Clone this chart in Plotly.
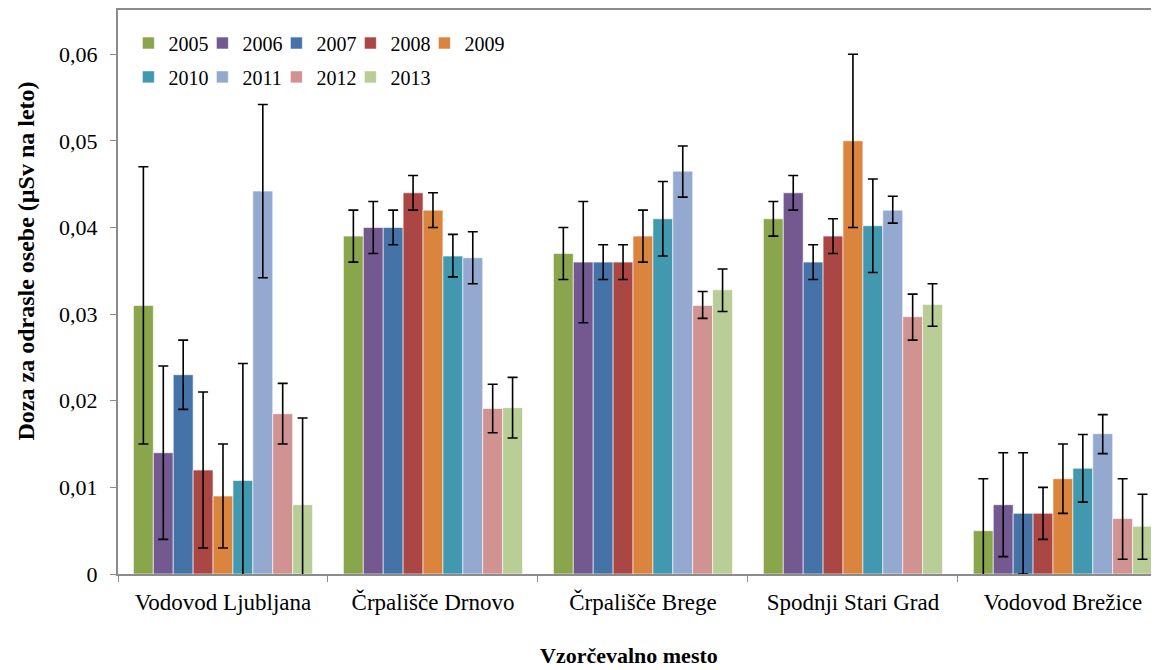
import plotly.graph_objects as go

sites = ["Vodovod Ljubljana", "Črpališče Drnovo", "Črpališče Brege",
         "Spodnji Stari Grad", "Vodovod Brežice"]
years = ["2005", "2006", "2007", "2008", "2009", "2010", "2011", "2012", "2013"]
colors = ["#8AA64D", "#735990", "#4572A7", "#AA4644", "#DB843D",
          "#4198AF", "#93A9CF", "#D19392", "#B9CD96"]

# dose per site, one list per year (µSv/leto)
y2005 = [0.031, 0.039, 0.037, 0.041, 0.005]
y2006 = [0.014, 0.040, 0.036, 0.044, 0.008]
y2007 = [0.023, 0.040, 0.036, 0.036, 0.007]
y2008 = [0.012, 0.044, 0.036, 0.039, 0.007]
y2009 = [0.009, 0.042, 0.039, 0.050, 0.011]
y2010 = [0.0108, 0.0367, 0.041, 0.0402, 0.0122]
y2011 = [0.0442, 0.0365, 0.0465, 0.042, 0.0162]
y2012 = [0.0185, 0.0191, 0.031, 0.0297, 0.0064]
y2013 = [0.008, 0.0192, 0.0328, 0.0311, 0.0055]

# error bar upper ends
hi2005 = [0.047, 0.042, 0.040, 0.043, 0.011]
hi2006 = [0.024, 0.043, 0.043, 0.046, 0.014]
hi2007 = [0.027, 0.042, 0.038, 0.038, 0.014]
hi2008 = [0.021, 0.046, 0.038, 0.041, 0.010]
hi2009 = [0.015, 0.044, 0.042, 0.060, 0.015]
hi2010 = [0.0243, 0.0392, 0.0453, 0.0456, 0.0161]
hi2011 = [0.0542, 0.0395, 0.0494, 0.0436, 0.0184]
hi2012 = [0.022, 0.0219, 0.0326, 0.0323, 0.011]
hi2013 = [0.018, 0.0227, 0.0352, 0.0335, 0.0092]

# error bar lower ends
lo2005 = [0.015, 0.036, 0.034, 0.039, -0.001]
lo2006 = [0.004, 0.037, 0.029, 0.042, 0.002]
lo2007 = [0.019, 0.038, 0.034, 0.034, 0.000]
lo2008 = [0.003, 0.042, 0.034, 0.037, 0.004]
lo2009 = [0.003, 0.040, 0.036, 0.040, 0.007]
lo2010 = [-0.0027, 0.0343, 0.0367, 0.0348, 0.0083]
lo2011 = [0.0342, 0.0335, 0.0435, 0.0405, 0.0139]
lo2012 = [0.015, 0.0163, 0.0295, 0.027, 0.0017]
lo2013 = [-0.002, 0.0157, 0.0303, 0.0286, 0.0017]

vals = [y2005, y2006, y2007, y2008, y2009, y2010, y2011, y2012, y2013]
his = [hi2005, hi2006, hi2007, hi2008, hi2009, hi2010, hi2011, hi2012, hi2013]
los = [lo2005, lo2006, lo2007, lo2008, lo2009, lo2010, lo2011, lo2012, lo2013]

ytickvals = [0, 0.01, 0.02, 0.03, 0.04, 0.05, 0.06]
yticktext = ["0", "0,01", "0,02", "0,03", "0,04", "0,05", "0,06"]

FONT = "Liberation Serif, Times New Roman, serif"

fig = go.Figure()
for i, yr in enumerate(years):
    v = vals[i]
    fig.add_trace(go.Bar(
        x=sites, y=v, name=yr,
        marker=dict(color=colors[i], line=dict(color="rgba(255,255,255,0.6)", width=1)),
        error_y=dict(type="data", symmetric=False,
                     array=[h - a for h, a in zip(his[i], v)],
                     arrayminus=[a - l for a, l in zip(v, los[i])],
                     color="black", thickness=1.6, width=5),
        legend="legend" if i < 5 else "legend2",
    ))

# empty spacer entries so the last legend label in each row is not clipped
for lg in ["legend", "legend2"]:
    fig.add_trace(go.Scatter(x=[None], y=[None], name=" ", mode="lines",
                             line=dict(color="rgba(0,0,0,0)", width=0),
                             legend=lg, hoverinfo="skip"))

leg = dict(orientation="h", xref="paper", yref="paper", xanchor="left", yanchor="top",
           bgcolor="rgba(0,0,0,0)", font=dict(family=FONT, size=20, color="black"),
           entrywidth=29, itemwidth=30, traceorder="normal")

# page body has an 8px margin, so the figure is a bit smaller than the window
fig.update_layout(
    width=1151, height=662,
    margin=dict(l=110, r=0, t=2, b=96),
    paper_bgcolor="white", plot_bgcolor="white",
    barmode="group", bargap=0.147, bargroupgap=0,
    font=dict(family=FONT, size=20, color="black"),
    legend=dict(leg, x=0.01, y=0.976),
    legend2=dict(leg, x=0.01, y=0.916),
    showlegend=True,
    annotations=[
        dict(text="<b>Doza za odrasle osebe (µSv na leto)</b>", textangle=-90,
             xref="paper", yref="paper", x=-0.089, y=0.555, xanchor="center", yanchor="middle",
             showarrow=False, font=dict(family=FONT, size=24, color="black")),
        dict(text="<b>Vzorčevalno mesto</b>",
             xref="paper", yref="paper", x=0.492, y=-0.145, xanchor="center", yanchor="middle",
             showarrow=False, font=dict(family=FONT, size=22, color="black")),
    ],
)
fig.update_xaxes(range=[-0.5, 4.448], showline=True, linecolor="#8C8C8C", linewidth=2,
                 mirror=True, ticks="outside", tickson="boundaries", ticklen=6,
                 tickcolor="#8C8C8C", tickwidth=1, showgrid=False, ticklabelstandoff=6,
                 tickfont=dict(family=FONT, size=23, color="black"))
fig.update_yaxes(range=[0, 0.0651], tickvals=ytickvals, ticktext=yticktext,
                 showline=True, linecolor="#8C8C8C", linewidth=2, mirror=True,
                 ticks="outside", ticklen=6, tickcolor="#8C8C8C", tickwidth=1,
                 showgrid=False, zeroline=False, ticklabelstandoff=8,
                 tickfont=dict(family=FONT, size=22, color="black"))

fig.write_html("out.html")
